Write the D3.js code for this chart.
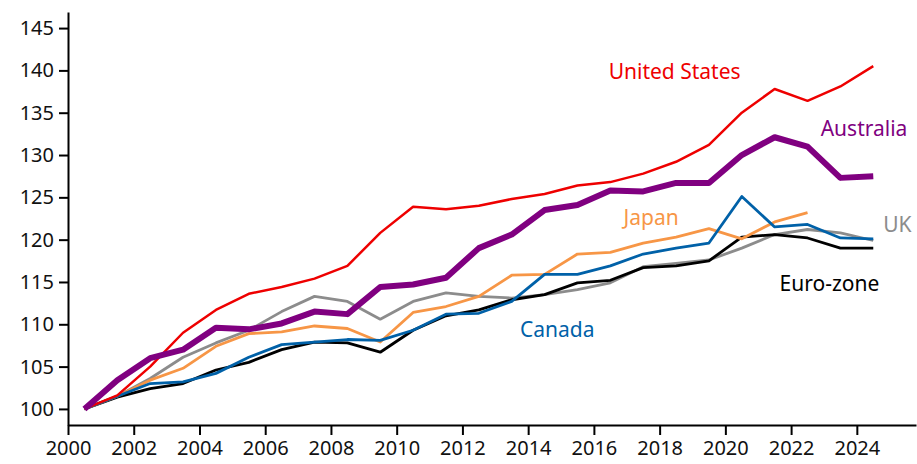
<!DOCTYPE html>
<html>
<head>
<meta charset="utf-8">
<script src="https://cdn.jsdelivr.net/npm/d3@7"></script>
<style>
  body { margin: 0; background: #fff; }
  svg text { font-family: "Noto Sans", sans-serif; }
</style>
</head>
<body>
<div id="chart"></div>
<script>
// mid-year observation points, index 2000.5 = 100
const YEARS = d3.range(2000.5, 2025, 1);

const US = [100, 101.6, 105.0, 109.0, 111.7, 113.6, 114.4, 115.4, 116.9, 120.8,
            123.9, 123.6, 124.0, 124.8, 125.4, 126.4, 126.8, 127.8, 129.2, 131.2,
            135.0, 137.8, 136.4, 138.1, 140.5];
const AUSTRALIA = [100, 103.4, 106.0, 107.0, 109.6, 109.4, 110.1, 111.5, 111.2, 114.4,
                   114.7, 115.5, 119.0, 120.6, 123.5, 124.1, 125.8, 125.7, 126.7, 126.7,
                   130.0, 132.1, 131.0, 127.3, 127.5];
const JAPAN = [100, 101.5, 103.4, 104.8, 107.4, 108.9, 109.1, 109.8, 109.5, 107.9,
               111.4, 112.1, 113.3, 115.8, 115.9, 118.3, 118.5, 119.6, 120.3, 121.3,
               120.1, 122.1, 123.2];
const CANADA = [100, 101.5, 103.0, 103.2, 104.2, 106.1, 107.6, 107.9, 108.2, 108.1,
                109.3, 111.2, 111.3, 112.7, 115.9, 115.9, 116.9, 118.3, 119.0, 119.6,
                125.1, 121.5, 121.8, 120.2, 120.1];
const EUROZONE = [100, 101.4, 102.4, 103.0, 104.6, 105.5, 107.0, 107.9, 107.8, 106.7,
                  109.3, 111.0, 111.7, 112.9, 113.5, 114.9, 115.2, 116.7, 116.9, 117.5,
                  120.3, 120.6, 120.2, 119.0, 119.0];
const UK = [100, 101.5, 103.6, 106.1, 107.8, 109.3, 111.5, 113.3, 112.7, 110.6,
            112.7, 113.7, 113.3, 113.1, 113.5, 114.1, 114.9, 116.8, 117.2, 117.6,
            119.0, 120.6, 121.2, 120.8, 119.9];

const X_TICKS = d3.range(2000, 2025, 2);
const Y_TICKS = d3.range(100, 146, 5);

// frame
const FRAME_WIDTH = 917;
const FRAME_HEIGHT = 464;

const svg = d3.select("#chart")
  .append("svg")
    .attr("width", FRAME_WIDTH)
    .attr("height", FRAME_HEIGHT);

const X_SCALE = d3.scaleLinear().domain([2000, 2025.8]).range([68, 916]);
const Y_SCALE = d3.scaleLinear().domain([98.1, 146.9]).range([425, 12]);

// axes
const xAxis = svg.append("g")
  .attr("transform", "translate(0," + 425 + ")")
  .call(d3.axisBottom(X_SCALE).tickValues(X_TICKS).tickFormat(d3.format("d"))
          .tickSize(10).tickSizeOuter(0).tickPadding(6));

const yAxis = svg.append("g")
  .attr("transform", "translate(" + 68 + ",0)")
  .call(d3.axisLeft(Y_SCALE).tickValues(Y_TICKS).tickSize(9).tickSizeOuter(0).tickPadding(5));

[xAxis, yAxis].forEach(g => {
  g.select(".domain").attr("stroke", "#000").attr("stroke-width", 2);
  g.selectAll(".tick line").attr("stroke", "#000").attr("stroke-width", 2);
  g.selectAll(".tick text").attr("font-size", "20px").attr("fill", "#111")
    .attr("font-family", "'Noto Sans', sans-serif");
});

const line = d3.line()
  .x((d, i) => X_SCALE(YEARS[i]))
  .y(d => Y_SCALE(d));

// draw order: bottom to top
const SERIES = [
  {name: "UK", data: UK, color: "#8c8c8c", width: 2.8},
  {name: "Euro-zone", data: EUROZONE, color: "#000000", width: 2.8},
  {name: "Japan", data: JAPAN, color: "#f79646", width: 2.8},
  {name: "Canada", data: CANADA, color: "#0061a8", width: 2.8},
  {name: "United States", data: US, color: "#ee0000", width: 2.5},
  {name: "Australia", data: AUSTRALIA, color: "#800080", width: 6}
];

svg.selectAll(".series")
  .data(SERIES)
  .enter()
  .append("path")
    .attr("class", "series")
    .attr("d", d => line(d.data))
    .attr("fill", "none")
    .attr("stroke", d => d.color)
    .attr("stroke-width", d => d.width)
    .attr("stroke-linejoin", "round");

// labels placed in data space
const LABELS = [
  {text: "United States", x: 2016.45, y: 139.0, color: "#ee0000"},
  {text: "Australia", x: 2022.9, y: 132.3, color: "#800080"},
  {text: "Japan", x: 2016.9, y: 121.7, color: "#f79646"},
  {text: "UK", x: 2024.8, y: 120.9, color: "#8c8c8c"},
  {text: "Euro-zone", x: 2021.65, y: 113.9, color: "#000000"},
  {text: "Canada", x: 2013.75, y: 108.5, color: "#0061a8"}
];

svg.selectAll(".label")
  .data(LABELS)
  .enter()
  .append("text")
    .attr("class", "label")
    .attr("x", d => X_SCALE(d.x))
    .attr("y", d => Y_SCALE(d.y))
    .attr("fill", d => d.color)
    .attr("font-size", "21px")
    .text(d => d.text);
</script>
</body>
</html>
